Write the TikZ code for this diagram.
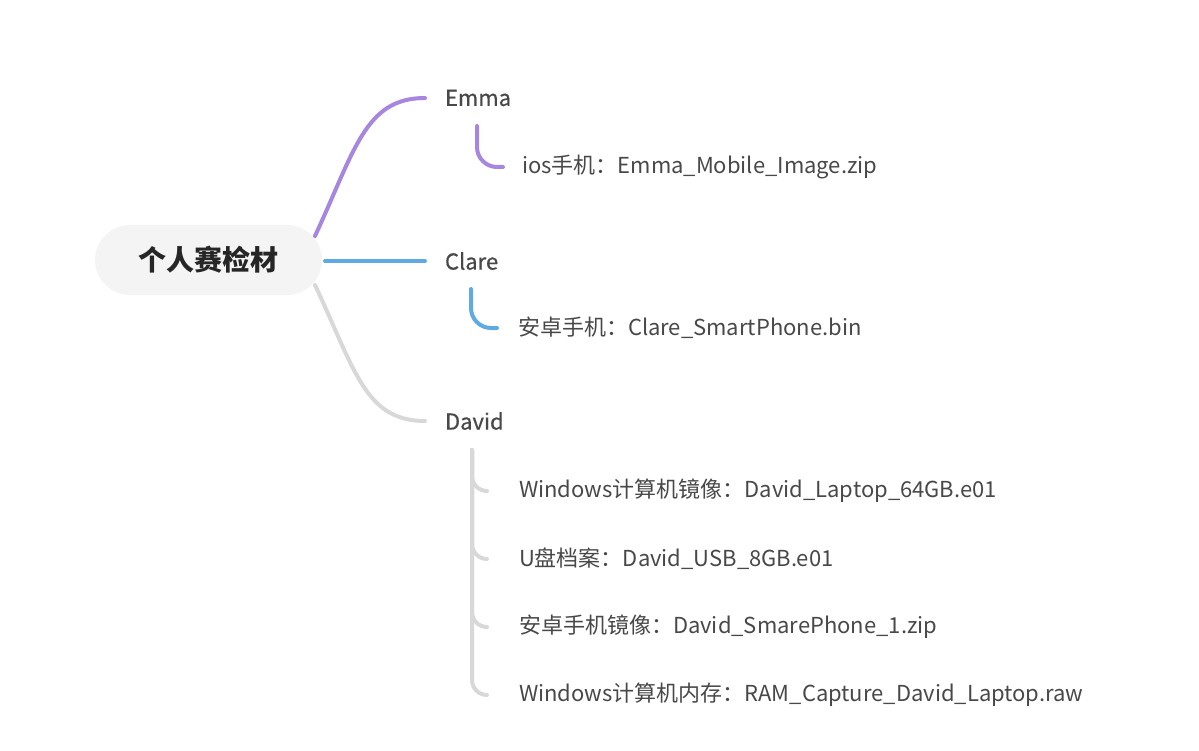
\documentclass[tikz,border=0pt]{standalone}
\usepackage{fontspec}
\setmainfont{Noto Sans CJK SC}
\newfontfamily\branchfont[FakeBold=0.6]{Noto Sans CJK SC}
\usepackage{tikz}
\usetikzlibrary{positioning}
\definecolor{emmacol}{RGB}{167,134,224}
\definecolor{clarecol}{RGB}{96,170,228}
\definecolor{davidcol}{RGB}{216,216,216}
\definecolor{rootfill}{RGB}{244,244,244}
\definecolor{txtcol}{RGB}{72,72,72}

\begin{document}
\begin{tikzpicture}[x=1pt,y=-1pt,line cap=round,line width=4pt,
	rootnode/.style={rectangle,rounded corners=35pt,fill=rootfill,minimum width=227pt,minimum height=70pt,font=\fontsize{28}{32}\selectfont\bfseries,text=black!85},
	branchnode/.style={anchor=west,inner xsep=18pt,inner ysep=0pt,font=\fontsize{22}{26}\selectfont\branchfont,text=txtcol},
	leafnode/.style={anchor=west,inner xsep=17pt,inner ysep=0pt,font=\fontsize{22}{26}\selectfont,text=txtcol},
	bracket/.style={rounded corners=20pt}]
	\useasboundingbox (0,0) rectangle (1199,751);
	
	\node [rootnode] (0) at (208.5, 260) {个人赛检材};
	\coordinate (0a) at (315, 236);
	\coordinate (0b) at (325, 261);
	\coordinate (0c) at (315, 285);
	
	\node [branchnode] (1) at (425, 98) {Emma};
	\node [branchnode] (2) at (425, 261) {Clare};
	\node [branchnode] (3) at (425, 421) {David};
	
	\coordinate (1s) at (477, 126);
	\node [leafnode] (1a) at (503, 167) {ios手机：Emma\_Mobile\_Image.zip};
	
	\coordinate (2s) at (471, 289);
	\node [leafnode, inner xsep=19pt] (2a) at (497, 328) {安卓手机：Clare\_SmartPhone.bin};
	
	\coordinate (3s) at (472, 450);
	\node [leafnode, inner xsep=30pt] (3a) at (487, 491) {Windows计算机镜像：David\_Laptop\_64GB.e01};
	\node [leafnode, inner xsep=30pt] (3b) at (487, 559) {U盘档案：David\_USB\_8GB.e01};
	\node [leafnode, inner xsep=30pt] (3c) at (487, 627) {安卓手机镜像：David\_SmarePhone\_1.zip};
	\node [leafnode, inner xsep=30pt] (3d) at (487, 695) {Windows计算机内存：RAM\_Capture\_David\_Laptop.raw};
	
	\draw [emmacol] (0a) .. controls (355, 150) and (365, 98) .. (1.west);
	\draw [clarecol] (0b) to (2.west);
	\draw [davidcol] (0c) .. controls (355, 370) and (365, 421) .. (3.west);
	
	\draw [emmacol, bracket] (1s) |- (1a.west);
	\draw [clarecol, bracket] (2s) |- (2a.west);
	\draw [davidcol, bracket, rounded corners=15pt] (3s) |- (3a.west);
	\draw [davidcol, bracket, rounded corners=15pt] (3s) |- (3b.west);
	\draw [davidcol, bracket, rounded corners=15pt] (3s) |- (3c.west);
	\draw [davidcol, bracket, rounded corners=15pt] (3s) |- (3d.west);
\end{tikzpicture}
\end{document}
